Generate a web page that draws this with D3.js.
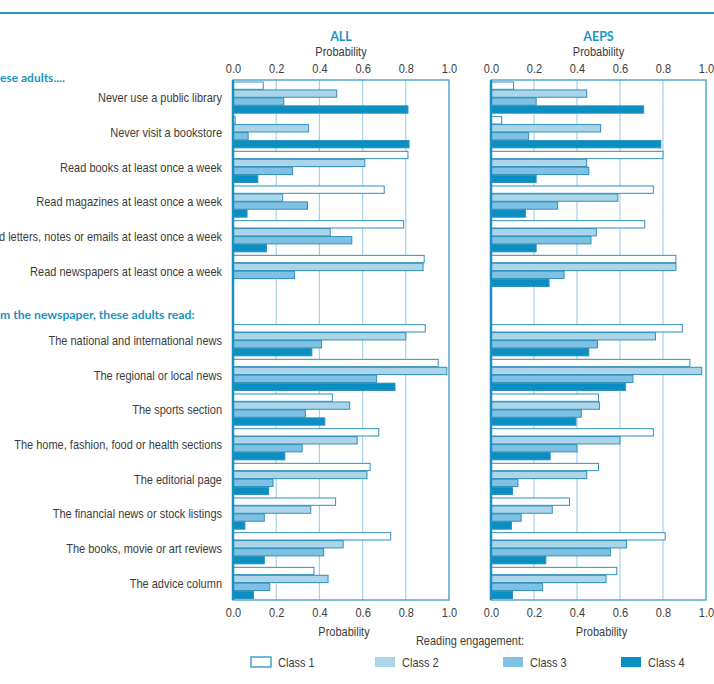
<!DOCTYPE html>
<html>
<head>
<meta charset="utf-8">
<script src="https://cdn.jsdelivr.net/npm/d3@7"></script>
<style>
  body { margin: 0; background: #fff; }
  svg { display: block; }
  .lbl { font-family: "Liberation Sans", Arial, sans-serif; font-size: 12.5px; fill: #3c3c3c; }
  .head { font-family: "Lato", "Open Sans", sans-serif; font-weight: bold; fill: #1a95c4; }
</style>
</head>
<body>
<div id="chart"></div>
<script>
// behaviours (rows), blank slot separates the two sections
var behaviours = ["Never use a public library", "Never visit a bookstore",
    "Read books at least once a week", "Read magazines at least once a week",
    "Read letters, notes or emails at least once a week", "Read newspapers at least once a week"];
var newspaperSections = ["The national and international news", "The regional or local news",
    "The sports section", "The home, fashion, food or health sections", "The editorial page",
    "The financial news or stock listings", "The books, movie or art reviews", "The advice column"];
var classes = ["Class 1", "Class 2", "Class 3", "Class 4"];
var ticks = [0, 0.2, 0.4, 0.6, 0.8, 1.0];

// ALL panel
var allClass1 = [0.14, 0.01, 0.81, 0.70, 0.79, 0.885, 0.89, 0.95, 0.46, 0.675, 0.635, 0.475, 0.73, 0.375];
var allClass2 = [0.48, 0.35, 0.61, 0.23, 0.45, 0.88, 0.80, 0.99, 0.54, 0.575, 0.62, 0.36, 0.51, 0.44];
var allClass3 = [0.235, 0.07, 0.275, 0.345, 0.55, 0.285, 0.41, 0.665, 0.335, 0.32, 0.185, 0.145, 0.42, 0.17];
var allClass4 = [0.81, 0.815, 0.115, 0.065, 0.155, 0, 0.365, 0.75, 0.425, 0.24, 0.165, 0.055, 0.145, 0.095];

// AEPS panel
var aepsClass1 = [0.105, 0.05, 0.80, 0.755, 0.715, 0.86, 0.89, 0.925, 0.50, 0.755, 0.50, 0.365, 0.81, 0.585];
var aepsClass2 = [0.445, 0.51, 0.445, 0.59, 0.49, 0.86, 0.765, 0.98, 0.505, 0.60, 0.445, 0.285, 0.63, 0.535];
var aepsClass3 = [0.21, 0.175, 0.455, 0.31, 0.465, 0.34, 0.495, 0.66, 0.42, 0.40, 0.125, 0.14, 0.555, 0.24];
var aepsClass4 = [0.71, 0.79, 0.21, 0.16, 0.21, 0.27, 0.455, 0.625, 0.395, 0.275, 0.10, 0.095, 0.255, 0.10];

var W = 714, H = 684;
var teal = "#2a93c1";
var fills = ["#ffffff", "#acd5ea", "#7fc1e2", "#0a8fc3"];
var squeeze = 0.88;   // fake condensed type

var rows = behaviours.concat(["__gap"], newspaperSections);

var svg = d3.select("#chart").append("svg")
    .attr("width", W).attr("height", H);

// places a condensed-looking label at (x, y)
function label(parent, x, y, txt, anchor) {
    return parent.append("g")
        .attr("transform", "translate(" + x + "," + y + ")")
        .append("text")
        .attr("class", "lbl")
        .attr("transform", "scale(" + squeeze + ",1)")
        .attr("text-anchor", anchor || "start")
        .text(txt);
}

// top rule
svg.append("line")
    .attr("x1", 0).attr("x2", W).attr("y1", 13).attr("y2", 13)
    .attr("stroke", teal).attr("stroke-width", 2);

var plotTop = 80, plotBottom = 600;

var y = d3.scaleBand().domain(rows).range([plotTop, plotBottom]).padding(0);
var yInner = d3.scaleBand().domain(classes).range([2, y.bandwidth() - 1.5]).paddingInner(0.08);

// row labels
behaviours.concat(newspaperSections).forEach(function(d) {
    label(svg, 222, y(d) + y.bandwidth() / 2 + 5, d, "end");
});

// section headers (cut off at the left edge as in the original)
var h1 = svg.append("text").attr("class", "head")
    .attr("y", 82).attr("font-size", 12)
    .text("These adults....");
h1.attr("x", -h1.node().getSubStringLength(0, 2));
var h2 = svg.append("text").attr("class", "head")
    .attr("y", 319).attr("font-size", 12.2)
    .text("From the newspaper, these adults read:");
h2.attr("x", -h2.node().getSubStringLength(0, 3));

var panels = [
    {name: "ALL", x0: 233, x1: 449, series: [allClass1, allClass2, allClass3, allClass4]},
    {name: "AEPS", x0: 491, x1: 706, series: [aepsClass1, aepsClass2, aepsClass3, aepsClass4]}
];

var dataRows = behaviours.concat(newspaperSections);

panels.forEach(function(p) {
    var x = d3.scaleLinear().domain([0, 1]).range([p.x0, p.x1]);
    var g = svg.append("g");

    // grid
    g.selectAll("line.grid")
        .data(ticks.slice(1, -1))
        .enter().append("line")
        .attr("x1", function(d) { return x(d); })
        .attr("x2", function(d) { return x(d); })
        .attr("y1", plotTop).attr("y2", plotBottom)
        .attr("stroke", "#a6d2e8").attr("stroke-width", 1.2);

    // bars
    classes.forEach(function(c, ci) {
        g.selectAll("rect.c" + ci)
            .data(p.series[ci].map(function(v, i) { return {row: dataRows[i], v: v}; }))
            .enter().append("rect")
            .attr("x", x(0))
            .attr("y", function(d) { return y(d.row) + yInner(c); })
            .attr("width", function(d) { return x(d.v) - x(0); })
            .attr("height", yInner.bandwidth())
            .attr("fill", fills[ci])
            .attr("stroke", function(d) { return d.v > 0 ? "#2f8fbd" : "none"; })
            .attr("stroke-width", 1);
    });

    // frame
    g.append("rect")
        .attr("x", x(0)).attr("y", plotTop)
        .attr("width", x(1) - x(0)).attr("height", plotBottom - plotTop)
        .attr("fill", "none").attr("stroke", "#3a9cca").attr("stroke-width", 1.3);
    g.append("line")
        .attr("x1", x(0)).attr("x2", x(0)).attr("y1", plotTop).attr("y2", plotBottom)
        .attr("stroke", "#1c8ec2").attr("stroke-width", 2.5);

    // axes top / bottom
    var axTop = d3.axisTop(x).tickValues(ticks).tickFormat(d3.format(".1f")).tickSize(0).tickPadding(0);
    var axBot = d3.axisBottom(x).tickValues(ticks).tickFormat(d3.format(".1f")).tickSize(0).tickPadding(0);
    var gt = svg.append("g").attr("transform", "translate(0,73)").call(axTop);
    var gb = svg.append("g").attr("transform", "translate(0,608)").call(axBot);
    [gt, gb].forEach(function(a) {
        a.select(".domain").remove();
        a.attr("font-family", null).attr("font-size", null);
        a.selectAll("text")
            .attr("class", "lbl")
            .attr("transform", "scale(" + squeeze + ",1)");
    });

    var mid = (p.x0 + p.x1) / 2;
    svg.append("text").attr("class", "head")
        .attr("x", mid).attr("y", 41).attr("font-size", 12.5)
        .attr("text-anchor", "middle").text(p.name);
    label(svg, mid, 56, "Probability", "middle");
    label(svg, mid + 3, 636, "Probability", "middle");
});

// legend
label(svg, 470, 645, "Reading engagement:", "middle");

var legendX = [251, 375, 503, 621];
var lg = svg.selectAll("g.leg").data(classes).enter().append("g")
    .attr("transform", function(d, i) { return "translate(" + legendX[i] + ",657)"; });
lg.append("rect")
    .attr("width", 20).attr("height", 10)
    .attr("fill", function(d, i) { return fills[i]; })
    .attr("stroke", function(d, i) { return i === 0 ? teal : "none"; })
    .attr("stroke-width", 1.3);
lg.each(function(d) {
    label(d3.select(this), 27, 10, d, "start");
});
</script>
</body>
</html>
